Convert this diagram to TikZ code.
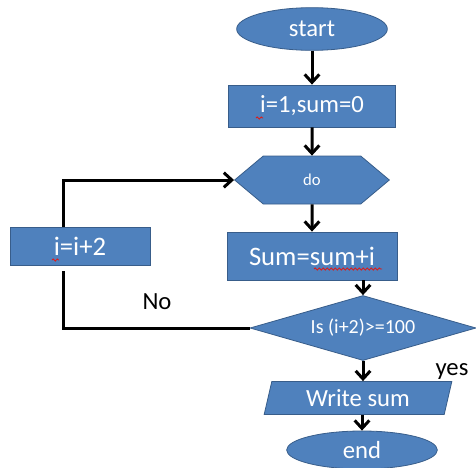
\documentclass[tikz,border=0pt]{standalone}
\usepackage{fontspec}
\setmainfont{Carlito}
\usepackage{xcolor}
\usetikzlibrary{positioning,arrows.meta,shapes.geometric,shapes.symbols,decorations.pathmorphing}

\definecolor{boxblue}{RGB}{79,129,189}
\definecolor{boxedge}{RGB}{56,93,138}
\definecolor{spellred}{RGB}{215,30,30}

\begin{document}
\begin{tikzpicture}[x=0.75pt,y=-0.75pt,every node/.style={on grid},
    >={Straight Barb[length=6pt,width=11pt]},
    block/.style={draw=boxedge,line width=0.6pt,fill=boxblue,text=white,
      inner sep=0pt,font=\fontsize{18.5}{20}\selectfont},
    terminal/.style={block,ellipse,minimum width=113pt,minimum height=32pt},
    process/.style={block,rectangle,minimum width=125pt,minimum height=31.5pt},
    loophead/.style={block,signal,signal to=west and east,signal pointer angle=80,
      minimum width=116pt,minimum height=36pt,font=\fontsize{12.5}{14}\selectfont},
    decision/.style={block,diamond,aspect=3.5,minimum width=169.5pt,
      minimum height=48.75pt,font=\fontsize{15}{17}\selectfont},
    io/.style={block,trapezium,trapezium left angle=75,trapezium right angle=105,
      trapezium stretches=true,minimum width=141pt,minimum height=24.75pt},
    flow/.style={line width=2.25pt},
    branch/.style={font=\fontsize{18.5}{20}\selectfont},
    squiggle/.style={draw=spellred,line width=0.7pt,
      decorate,decoration={snake,amplitude=0.8pt,segment length=3pt}}]
    \useasboundingbox (0,0) rectangle (476,468);
    % main column
    \node[terminal] (start) at (312,29) {start};
    \node[process,below=57.75pt of start] (init) {i=1,sum=0};
    \node[loophead,below=55.5pt of init] (do) {do};
    \node[process,below=57pt of do,minimum width=127.5pt,minimum height=36pt,
      font=\fontsize{20}{22}\selectfont] (sum) {Sum=sum+i};
    \node[decision,below=54pt of sum,xshift=38.25pt] (test) {Is (i+2)>=100};
    \node[io,below=52.5pt of test,xshift=-3.75pt] (write) {Write sum};
    \node[terminal,below=39pt of write,xshift=3pt,minimum height=28.5pt] (end) {end};
    % loop back
    \node[process,left=174pt of sum,yshift=7.5pt,minimum width=105pt,minimum height=28.5pt,
      font=\fontsize{20}{22}\selectfont] (inc) {i=i+2};
    \node[branch] (no) at (157,302) {No};
    \node[branch] (yes) at (452,372) {yes};
    \draw[flow,->] (start) -- (init);
    \draw[flow,->] (init) -- (do);
    \draw[flow,->] (do) -- (sum);
    \draw[flow,->] (sum.south -| test.north) -- (test.north);
    \draw[flow,->] (test.south) -- (test.south |- write.north);
    \draw[flow,->] (write.south -| end.north) -- (end.north);
    \draw[flow] (test.west) -| ([xshift=-12.75pt,yshift=-4pt]inc.south);
    \draw[flow,->] ([xshift=-12.75pt]inc.north) |- (do.west);
    % spell check marks
    \draw[squiggle] (256,118) -- (263,118);
    \draw[squiggle] (314,269) -- (382,269);
    \draw[squiggle] (52,260) -- (59,260);
\end{tikzpicture}
\end{document}
